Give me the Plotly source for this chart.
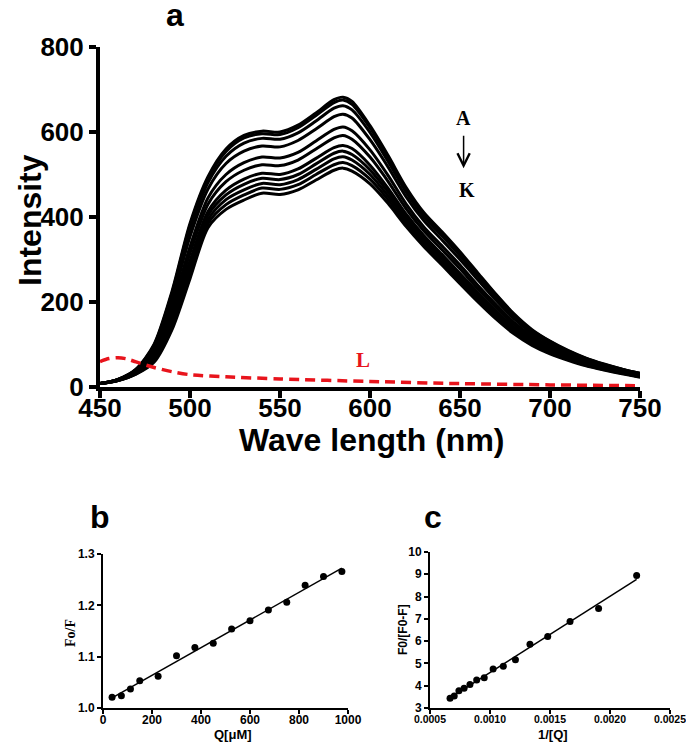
import numpy as np
import plotly.graph_objects as go

# ---------------- data ----------------
wavelength = [450, 460, 470, 480, 490, 500, 510, 520, 530, 540, 550, 560, 570, 580, 585, 590,
              600, 610, 620, 630, 640, 650, 660, 670, 680, 690, 700, 710, 720, 730, 740, 750]

curve_A = [8, 18, 42, 100, 225, 385, 495, 560, 592, 602, 600, 616, 645, 676, 682, 672,
           615, 545, 470, 410, 365, 318, 268, 218, 172, 135, 108, 86, 68, 54, 42, 32]
curve_B = [8, 18, 41, 98, 221, 380, 490, 554, 586, 596, 594, 610, 639, 669, 675, 665,
           610, 541, 466, 407, 362, 315, 265, 216, 170, 133, 107, 85, 67, 53, 42, 32]
curve_C = [8, 18, 41, 95, 214, 369, 481, 543, 574, 585, 583, 598, 626, 656, 662, 652,
           599, 531, 459, 400, 356, 309, 260, 211, 166, 131, 104, 83, 66, 52, 41, 31]
curve_D = [8, 17, 39, 90, 203, 354, 466, 526, 555, 567, 565, 580, 607, 636, 642, 633,
           582, 518, 448, 391, 346, 300, 252, 204, 161, 126, 101, 80, 64, 51, 39, 30]
curve_E = [8, 17, 37, 82, 187, 330, 445, 500, 528, 541, 539, 552, 579, 606, 612, 603,
           558, 498, 431, 376, 332, 287, 239, 194, 152, 120, 95, 76, 60, 48, 37, 28]
curve_F = [8, 16, 36, 77, 176, 315, 430, 483, 510, 523, 521, 534, 560, 586, 592, 583,
           541, 484, 420, 367, 323, 278, 231, 187, 147, 115, 92, 74, 58, 46, 36, 27]
curve_G = [8, 16, 34, 71, 164, 297, 413, 463, 489, 503, 500, 513, 538, 563, 568, 561,
           522, 468, 407, 356, 312, 267, 222, 179, 140, 110, 88, 70, 56, 44, 35, 26]
curve_H = [8, 16, 33, 68, 157, 286, 404, 452, 477, 491, 488, 500, 525, 550, 555, 547,
           511, 459, 400, 349, 306, 261, 216, 174, 136, 107, 85, 69, 54, 43, 34, 25]
curve_I = [8, 15, 32, 65, 149, 276, 394, 441, 464, 479, 476, 488, 512, 537, 542, 534,
           500, 450, 393, 343, 300, 255, 211, 169, 132, 104, 83, 67, 53, 42, 33, 24]
curve_J = [8, 15, 31, 61, 142, 265, 385, 429, 452, 468, 465, 476, 500, 523, 528, 521,
           489, 441, 385, 336, 293, 249, 205, 165, 129, 101, 80, 65, 51, 41, 32, 24]
curve_K = [8, 15, 30, 58, 135, 255, 375, 418, 440, 456, 453, 464, 487, 510, 515, 508,
           478, 432, 378, 330, 287, 243, 200, 160, 125, 98, 78, 63, 50, 40, 31, 23]
curves = [curve_A, curve_B, curve_C, curve_D, curve_E, curve_F,
          curve_G, curve_H, curve_I, curve_J, curve_K]

wavelength_L = [450, 455, 460, 465, 470, 480, 490, 500, 520, 550, 600, 650, 700, 750]
curve_L = [60, 67, 69, 66, 59, 46, 36, 29, 24, 19, 13, 8, 5, 3]

# panel b: Stern-Volmer
q_uM = [37, 75, 112, 150, 225, 300, 375, 450, 525, 600, 675, 750, 825, 900, 975]
f0_f = [1.021, 1.024, 1.037, 1.053, 1.062, 1.102, 1.118, 1.126, 1.154, 1.170,
        1.191, 1.206, 1.239, 1.256, 1.266]

# panel c: modified Stern-Volmer
inv_q = [0.000667, 0.000702, 0.000741, 0.000784, 0.000833, 0.000889, 0.000952,
         0.001026, 0.001111, 0.001212, 0.001333, 0.001481, 0.001667, 0.001905, 0.002222]
f0_df = [3.44, 3.54, 3.77, 3.89, 4.06, 4.26, 4.36, 4.75, 4.87, 5.16, 5.86,
         6.21, 6.88, 7.47, 8.95]

# ---------------- figure ----------------
OFF = 8                      # default page body margin
W, H = 694 - OFF, 747 - OFF
fig = go.Figure()

for c in curves:
    fig.add_trace(go.Scatter(x=wavelength, y=c, mode="lines",
                             line=dict(color="black", width=3, shape="spline", smoothing=0.8),
                             showlegend=False, hoverinfo="skip", xaxis="x", yaxis="y"))

fig.add_trace(go.Scatter(x=wavelength_L, y=curve_L, mode="lines",
                         line=dict(color="#e8141c", width=3.5, dash="10px,6px",
                                   shape="spline", smoothing=0.8),
                         showlegend=False, xaxis="x", yaxis="y"))

# panel b
fit_b = np.polyfit(q_uM, f0_f, 1)
xb = np.array([min(q_uM), max(q_uM)])
fig.add_trace(go.Scatter(x=xb, y=np.polyval(fit_b, xb), mode="lines",
                         line=dict(color="black", width=1.5), showlegend=False,
                         xaxis="x2", yaxis="y2"))
fig.add_trace(go.Scatter(x=q_uM, y=f0_f, mode="markers",
                         marker=dict(color="black", size=7), showlegend=False,
                         xaxis="x2", yaxis="y2"))

# panel c
fit_c = np.polyfit(inv_q, f0_df, 1)
xc = np.array([min(inv_q), max(inv_q)])
fig.add_trace(go.Scatter(x=xc, y=np.polyval(fit_c, xc), mode="lines",
                         line=dict(color="black", width=1.5), showlegend=False,
                         xaxis="x3", yaxis="y3"))
fig.add_trace(go.Scatter(x=inv_q, y=f0_df, mode="markers",
                         marker=dict(color="black", size=7), showlegend=False,
                         xaxis="x3", yaxis="y3"))

big_tick = dict(family="Liberation Sans Narrow, Arial Narrow, Liberation Sans, Arial",
                size=26, color="black", weight="bold")
small_tick = dict(family="Liberation Sans, Arial", size=12, color="black", weight="bold")
small_tick_c = dict(family="Liberation Sans, Arial", size=10.5, color="black", weight="bold")

main_axis = dict(showgrid=False, zeroline=False, showline=True, linecolor="black",
                 linewidth=4, ticks="outside", ticklen=7, tickwidth=4, tickcolor="black",
                 tickfont=big_tick, automargin=False)
small_axis = dict(showgrid=False, zeroline=False, showline=True, linecolor="black",
                  linewidth=2, ticks="outside", ticklen=4, tickwidth=2, tickcolor="black",
                  tickfont=small_tick, automargin=False)

def px(xp):
    return (xp - OFF) / W

def py(yp):
    return (747 - yp) / H

fig.update_layout(
    template="none",
    width=W, height=H, margin=dict(l=0, r=0, t=0, b=0, pad=0),
    paper_bgcolor="white", plot_bgcolor="white",
    xaxis=dict(main_axis, domain=[px(100), px(640)], range=[450, 750],
               tickvals=[450, 500, 550, 600, 650, 700, 750], anchor="y",
               ticklabelstandoff=-12),
    yaxis=dict(main_axis, domain=[py(387), py(47)], range=[0, 800],
               tickvals=[0, 200, 400, 600, 800], anchor="x"),
    xaxis2=dict(small_axis, domain=[px(103), px(348)], range=[0, 1000],
                tickvals=[0, 200, 400, 600, 800, 1000], anchor="y2",
                ticklabelstandoff=-4),
    yaxis2=dict(small_axis, domain=[py(708), py(554)], range=[1.0, 1.3],
                tickvals=[1.0, 1.1, 1.2, 1.3], tickformat=".1f", anchor="x2"),
    xaxis3=dict(small_axis, domain=[px(430), px(670)], range=[0.0005, 0.0025],
                tickvals=[0.0005, 0.0010, 0.0015, 0.0020, 0.0025], tickformat=".4f",
                anchor="y3", ticklabelstandoff=-4, tickfont=small_tick_c),
    yaxis3=dict(small_axis, domain=[py(708), py(552)], range=[3, 10],
                tickvals=list(range(3, 11)), anchor="x3"),
)

bold_sans = "Liberation Sans, Arial"
serif = "Liberation Serif, Times New Roman"

def label(text, xp, yp, size, family=bold_sans, weight="bold", angle=0, color="black"):
    fig.add_annotation(text=text, x=px(xp), y=py(yp), xref="paper", yref="paper",
                       showarrow=False, textangle=angle, xanchor="center", yanchor="middle",
                       font=dict(family=family, size=size, color=color, weight=weight))

label("a", 175, 15, 32)
label("Intensity", 30, 220, 32, angle=-90)
label("Wave length (nm)", 371, 440, 32)
label("b", 100, 517, 32)
label("c", 433, 517, 32)
label("Fo/F", 70, 633, 14, family=serif, angle=-90)
label("Q[μM]", 233, 734, 13)
label("F0/[F0-F]", 403, 630, 12, angle=-90)
label("1/[Q]", 553, 734, 13)

# annotations inside panel a
fig.add_annotation(text="A", x=652, y=633, xref="x", yref="y", showarrow=False,
                   font=dict(family=serif, size=20, color="black", weight="bold"))
fig.add_annotation(text="K", x=654, y=463, xref="x", yref="y", showarrow=False,
                   font=dict(family=serif, size=20, color="black", weight="bold"))
fig.add_annotation(text="", x=652, y=515, ax=652, ay=595, xref="x", yref="y",
                   axref="x", ayref="y", showarrow=True, arrowhead=5, arrowsize=1.6,
                   arrowwidth=1.5, arrowcolor="black")
fig.add_annotation(text="L", x=596, y=64, xref="x", yref="y", showarrow=False,
                   font=dict(family=serif, size=21, color="#e8141c", weight="bold"))

fig.write_html("out.html")
